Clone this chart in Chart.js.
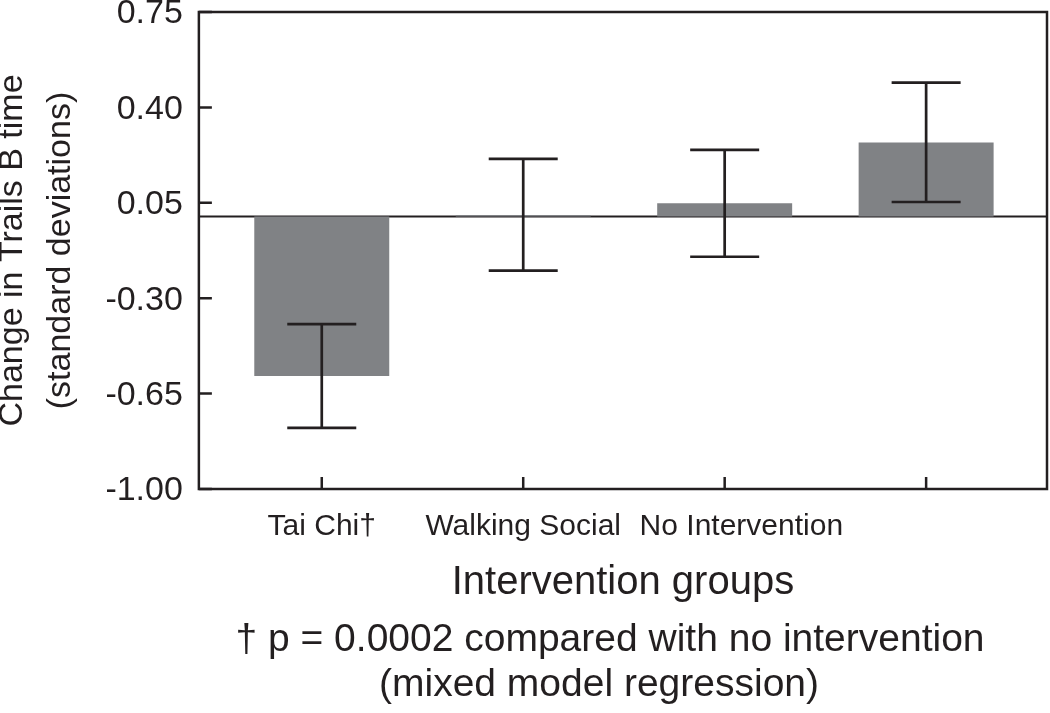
<!DOCTYPE html>
<html>
<head>
<meta charset="utf-8">
<script src="https://cdn.jsdelivr.net/npm/chart.js@4.4.1/dist/chart.umd.min.js"></script>
<style>
  html, body { margin: 0; padding: 0; background: #fff; }
  #wrap { width: 1050px; height: 713px; }
</style>
</head>
<body>
<div id="wrap"><canvas id="chart"></canvas></div>
<script>
// Change in Trails B time by intervention group, mean with error bars
const groups = ['Tai Chi†', 'Walking Social', 'No Intervention', ''];
const means = [-0.585, 0.005, 0.048, 0.271];
const lower = [-0.776, -0.199, -0.148, 0.053];
const upper = [-0.395, 0.211, 0.244, 0.491];
const yTicks = [-1.00, -0.65, -0.30, 0.05, 0.40, 0.75];
const footnote = ['† p = 0.0002 compared with no intervention', '(mixed model regression)'];

const INK = '#231f20';
const BAR = '#808285';
const FONT = '"Liberation Sans", Arial, Helvetica, sans-serif';

// --- Frame, baseline, inner tick marks, error bars, footnote ---
const framePlugin = {
  id: 'frame',
  beforeDatasetsDraw(chart) {
    const { ctx, chartArea: a, scales: { y } } = chart;
    const y0 = y.getPixelForValue(0);
    ctx.save();
    ctx.strokeStyle = INK;
    ctx.lineWidth = 2;
    ctx.beginPath();
    ctx.moveTo(a.left, y0);
    ctx.lineTo(a.right, y0);
    ctx.stroke();
    ctx.restore();
  },
  afterDatasetsDraw(chart) {
    const { ctx, chartArea: a, scales: { x, y } } = chart;
    const bars = chart.getDatasetMeta(0).data;
    ctx.save();
    ctx.strokeStyle = INK;
    ctx.lineWidth = 2.7;
    bars.forEach((bar, i) => {
      const top = y.getPixelForValue(upper[i]);
      const bot = y.getPixelForValue(lower[i]);
      const half = 34.5;
      ctx.beginPath();
      ctx.moveTo(bar.x, top);
      ctx.lineTo(bar.x, bot);
      ctx.moveTo(bar.x - half, top);
      ctx.lineTo(bar.x + half, top);
      ctx.moveTo(bar.x - half, bot);
      ctx.lineTo(bar.x + half, bot);
      ctx.stroke();
    });

    ctx.lineWidth = 2.5;
    ctx.strokeRect(a.left, a.top, a.right - a.left, a.bottom - a.top);

    // tick marks point into the plot
    ctx.beginPath();
    yTicks.forEach(v => {
      const py = y.getPixelForValue(v);
      ctx.moveTo(a.left, py);
      ctx.lineTo(a.left + 13, py);
    });
    groups.forEach((g, i) => {
      const px = x.getPixelForValue(i + 1);
      ctx.moveTo(px, a.bottom);
      ctx.lineTo(px, a.bottom - 12);
    });
    ctx.stroke();
    ctx.restore();
  },
  afterDraw(chart) {
    // footnote sits in the bottom padding, a little left of the plot centre
    const { ctx, chartArea: a } = chart;
    ctx.save();
    ctx.fillStyle = INK;
    ctx.font = '39px ' + FONT;
    ctx.textAlign = 'center';
    ctx.textBaseline = 'middle';
    ctx.fillText(footnote[0], 610, a.bottom + 151);
    ctx.fillText(footnote[1], 599, a.bottom + 196);
    ctx.restore();
  },
};

new Chart(document.getElementById('chart'), {
  type: 'bar',
  data: {
    datasets: [{
      data: means.map((v, i) => ({ x: i + 1, y: v })),
      backgroundColor: BAR,
      borderWidth: 0,
      barPercentage: 0.67,
      categoryPercentage: 1,
    }],
  },
  options: {
    responsive: true,
    maintainAspectRatio: false,
    animation: false,
    layout: { padding: { left: 0, right: 3, top: 0, bottom: 95.5 } },
    plugins: {
      legend: { display: false },
      tooltip: { enabled: false },
    },
    scales: {
      x: {
        type: 'linear',
        offset: false,
        min: 0.39,
        max: 4.6,
        afterBuildTicks: axis => { axis.ticks = groups.map((g, i) => ({ value: i + 1 })); },
        grid: { display: false, drawTicks: false },
        border: { display: false },
        ticks: {
          color: INK,
          padding: 20,
          maxRotation: 0,
          autoSkip: false,
          font: { family: FONT, size: 30, lineHeight: 1.2 },
          // the third label is set off to the right in the original
          callback: (v, i) => (i === 2 ? '    ' : '') + groups[i],
        },
        title: {
          display: true,
          text: 'Intervention groups',
          color: INK,
          font: { family: FONT, size: 40, lineHeight: 1.2 },
          padding: { top: -6.5, bottom: 11 },
        },
      },
      y: {
        min: -1,
        max: 0.75,
        afterBuildTicks: axis => { axis.ticks = yTicks.map(v => ({ value: v })); },
        grid: { display: false, drawTicks: true, tickLength: 4 },
        border: { display: false },
        ticks: {
          color: INK,
          padding: 12,
          labelOffset: 2,
          font: { family: FONT, size: 34, lineHeight: 0 },
          callback: v => v.toFixed(2),
        },
        title: {
          display: true,
          text: ['Change in Trails B time', '(standard deviations)'],
          color: INK,
          font: { family: FONT, size: 34, lineHeight: 1.41 },
          padding: { top: -11.5, bottom: 9 },
        },
      },
    },
  },
  plugins: [framePlugin],
});
</script>
</body>
</html>
